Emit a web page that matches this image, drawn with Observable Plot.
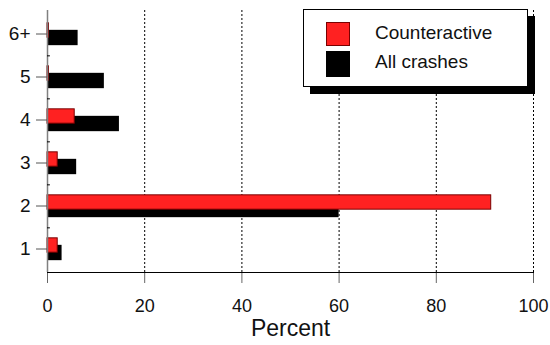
<!DOCTYPE html>
<html>
<head>
<meta charset="utf-8">
<script src="https://cdn.jsdelivr.net/npm/d3@7"></script>
<script src="https://cdn.jsdelivr.net/npm/@observablehq/plot@0.6"></script>
<style>
  html, body { margin: 0; padding: 0; background: #fff; }
  #wrap { position: relative; width: 550px; height: 345px; font-family: "Liberation Sans", Arial, sans-serif; }
  #legend { position: absolute; left: 303px; top: 9px; width: 223px; height: 76px; background: #fff; border: 1px solid #000; box-shadow: 7px 7px 0 #000; }
  .sw { position: absolute; left: 22px; width: 24px; box-sizing: border-box; }
  .lt { position: absolute; left: 71px; font-size: 19px; line-height: 19px; color: #111; }
</style>
</head>
<body>
<div id="wrap"></div>
<script>
const categories = ["1", "2", "3", "4", "5", "6+"];
const counteractive = [2.1, 91.3, 2.1, 5.6, 0.3, 0.3];
const allCrashes = [3.0, 60.0, 6.0, 14.8, 11.7, 6.3];
const xTicks = [0, 20, 40, 60, 80, 100];
const gridTicks = [20, 40, 60, 80, 100];
const seriesNames = ["Counteractive", "All crashes"];
const seriesColors = ["#ff2121", "#000000"];

const redData = categories.map((c, i) => ({cat: c, value: counteractive[i]}));
const blackData = categories.map((c, i) => ({cat: c, value: allCrashes[i]}));

const step = 262 / 6;

const chart = Plot.plot({
  width: 550,
  height: 345,
  marginLeft: 47,
  marginRight: 17,
  marginTop: 10,
  marginBottom: 73,
  style: {fontFamily: "'Liberation Sans', Arial, sans-serif", color: "#111", background: "#fff"},
  x: {domain: [0, 100], label: null},
  y: {domain: categories.slice().reverse(), padding: 0, label: null},
  marks: [
    Plot.gridX({ticks: gridTicks, stroke: "#000", strokeOpacity: 1, strokeDasharray: "2,2", strokeWidth: 1}),
    Plot.barX(blackData, {x: "value", y: "cat", fill: seriesColors[1], insetTop: (step - 16) / 2, insetBottom: (step - 16) / 2, dy: 4}),
    Plot.barX(redData, {x: "value", y: "cat", fill: seriesColors[0], stroke: "#7a0000", strokeWidth: 1, insetTop: (step - 15) / 2, insetBottom: (step - 15) / 2, dy: -3.5}),
    Plot.ruleX([0], {stroke: "#808080", strokeWidth: 1.5}),
    Plot.ruleY(categories.slice(1), {y: d => d, x1: 0, x2: 0.6, dy: step / 2, stroke: "#000"}),
    Plot.axisY({tickSize: 11, tickPadding: 6, fontSize: 19, stroke: "#555", label: null}),
    Plot.axisX({ticks: xTicks, tickSize: 11, tickPadding: 16, fontSize: 18, stroke: "#666", label: null}),
    Plot.frame({anchor: "bottom", stroke: "#000"}),
    Plot.text(["Percent"], {frameAnchor: "bottom", lineAnchor: "middle", dy: 56, fontSize: 23, fill: "#111"})
  ]
});

const wrap = document.getElementById("wrap");
wrap.appendChild(chart);

const legend = document.createElement("div");
legend.id = "legend";
seriesNames.forEach((name, i) => {
  const sw = document.createElement("div");
  sw.className = "sw";
  sw.style.top = (12 + i * 29) + "px";
  sw.style.height = (i === 0 ? 24 : 26) + "px";
  sw.style.background = seriesColors[i];
  sw.style.border = i === 0 ? "1px solid #7a0000" : "none";
  legend.appendChild(sw);
  const t = document.createElement("div");
  t.className = "lt";
  t.style.top = (13 + i * 29) + "px";
  t.textContent = name;
  legend.appendChild(t);
});
wrap.appendChild(legend);
</script>
</body>
</html>
